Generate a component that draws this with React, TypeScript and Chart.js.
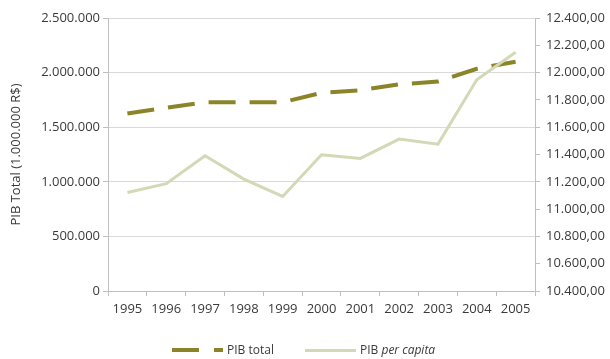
import React, { useEffect, useRef } from "react";
import { Chart, registerables } from "chart.js";

Chart.register(...registerables);

const years = ["1995", "1996", "1997", "1998", "1999", "2000", "2001", "2002", "2003", "2004", "2005"];
const pibTotal = [1625000, 1678000, 1728000, 1728000, 1728000, 1815000, 1838000, 1893000, 1918000, 2035000, 2100000];
const pibPerCapita = [11122, 11186, 11391, 11220, 11093, 11398, 11371, 11513, 11476, 11947, 12149];

const OLIVE = "#8c8428";
const LIGHT = "#d3d8b6";
const TEXT = "#3a3a3a";
const FONT = "'Open Sans', sans-serif";

function fmtThousands(v: number): string {
  const s = Math.round(v).toString();
  return s.replace(/\B(?=(\d{3})+(?!\d))/g, ".");
}
function fmtDec(v: number): string {
  return fmtThousands(Math.floor(v)) + ",00";
}

export default function App() {
  const ref = useRef<HTMLCanvasElement | null>(null);
  useEffect(() => {
    document.body.style.margin = "0";
    const ctx = ref.current!;
    const chart = new Chart(ctx, {
      type: "line",
      data: {
        labels: years,
        datasets: [
          {
            label: "PIB total",
            data: pibTotal,
            borderColor: OLIVE,
            borderWidth: 4,
            borderDash: [27, 14],
            borderCapStyle: "butt",
            pointRadius: 0,
            tension: 0,
            yAxisID: "y",
            order: 2,
          },
          {
            label: "PIB per capita",
            data: pibPerCapita,
            borderColor: LIGHT,
            borderWidth: 3,
            pointRadius: 0,
            tension: 0,
            yAxisID: "y1",
            order: 1,
          },
        ],
      },
      options: {
        animation: false,
        responsive: false,
        maintainAspectRatio: false,
        layout: { padding: { top: 18, bottom: 38, left: 0, right: 0 } },
        plugins: { legend: { display: false }, tooltip: { enabled: false } },
        scales: {
          x: {
            offset: true,
            grid: { offset: true, drawOnChartArea: false, tickLength: 5, color: "#bfbfbf" },
            border: { color: "#bfbfbf" },
            ticks: { color: TEXT, font: { family: FONT, size: 13 }, padding: 5, maxRotation: 0 },
            afterFit: (s: any) => { s.height = 30; },
          },
          y: {
            position: "left",
            min: 0,
            max: 2500000,
            ticks: {
              stepSize: 500000,
              color: TEXT,
              font: { family: FONT, size: 13 },
              padding: 3,
              callback: (v: any) => fmtThousands(Number(v)),
            },
            grid: { color: "#d9d9d9", tickLength: 5, tickColor: "#bfbfbf" },
            border: { color: "#bfbfbf" },
            title: {
              display: true,
              text: "PIB Total (1.000.000 R$)",
              color: TEXT,
              font: { family: FONT, size: 13 },
              padding: { top: 8, bottom: 0 },
            },
            afterFit: (s: any) => { s.width = 108; },
          },
          y1: {
            position: "right",
            min: 10400,
            max: 12400,
            ticks: {
              stepSize: 200,
              color: TEXT,
              font: { family: FONT, size: 13 },
              padding: 6,
              callback: (v: any) => fmtDec(Number(v)),
            },
            grid: { drawOnChartArea: false, tickLength: 5, color: "#bfbfbf" },
            border: { color: "#bfbfbf" },
            afterFit: (s: any) => { s.width = 75; },
          },
        },
      },
    });
    return () => chart.destroy();
  }, []);

  const legendText: React.CSSProperties = {
    position: "absolute",
    top: 342,
    fontFamily: FONT,
    fontSize: 12,
    color: TEXT,
    lineHeight: "16px",
    whiteSpace: "nowrap",
  };
  return (
    <div style={{ position: "relative", width: 610, height: 359 }}>
      <canvas ref={ref} width={610} height={359} style={{ display: "block" }} />
      <div style={{ position: "absolute", left: 172, top: 348, width: 27, height: 4, background: OLIVE }} />
      <div style={{ position: "absolute", left: 214, top: 348, width: 9, height: 4, background: OLIVE }} />
      <div style={{ ...legendText, left: 227 }}>PIB total</div>
      <div style={{ position: "absolute", left: 305, top: 349, width: 51, height: 3, background: LIGHT }} />
      <div style={{ ...legendText, left: 360 }}>
        PIB <i>per capita</i>
      </div>
    </div>
  );
}
